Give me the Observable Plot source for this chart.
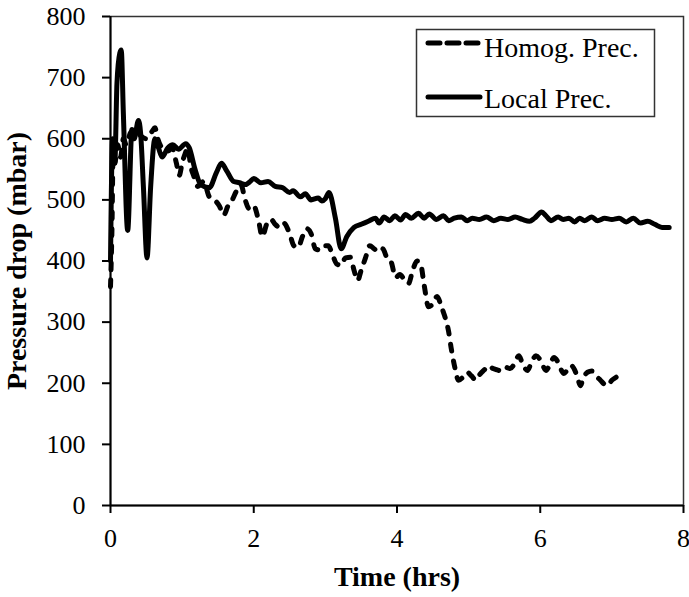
<!DOCTYPE html>
<html><head><meta charset="utf-8">
<script src="https://cdn.jsdelivr.net/npm/d3@7"></script>
<script src="https://cdn.jsdelivr.net/npm/@observablehq/plot@0.6"></script>
<style>
body{margin:0;background:#fff;}
#wrap{position:relative;width:689px;height:597px;font-family:"Liberation Serif","Times New Roman",serif;}
#wrap svg text{font-family:"Liberation Serif","Times New Roman",serif !important;}
#legend{position:absolute;left:0;top:0;pointer-events:none;}
</style></head><body><div id="wrap"></div>
<script>
const seriesNames = ["Homog. Prec.", "Local Prec."];
const xTitle = "Time (hrs)";
const yTitle = "Pressure drop (mbar)";
const xTicks = [0, 2, 4, 6, 8];
const yTicks = [0, 100, 200, 300, 400, 500, 600, 700, 800];

const homogTime = [0,0.02,0.04,0.06,0.1,0.14,0.18,0.22,0.28,0.35,0.42,0.5,0.58,0.62,0.66,0.72,0.8,0.86,0.92,0.96,1.0,1.04,1.08,1.12,1.16,1.22,1.3,1.38,1.45,1.52,1.58,1.64,1.7,1.76,1.82,1.88,1.94,2.0,2.06,2.12,2.18,2.24,2.3,2.36,2.42,2.5,2.56,2.62,2.68,2.74,2.8,2.86,2.92,2.98,3.04,3.1,3.16,3.22,3.28,3.35,3.4,3.45,3.5,3.56,3.62,3.68,3.74,3.8,3.86,3.92,3.98,4.04,4.1,4.16,4.22,4.28,4.33,4.38,4.44,4.5,4.56,4.62,4.66,4.72,4.76,4.8,4.86,4.92,4.98,5.04,5.1,5.16,5.22,5.28,5.34,5.4,5.46,5.52,5.58,5.64,5.7,5.76,5.82,5.88,5.94,6.0,6.04,6.08,6.14,6.19,6.24,6.28,6.33,6.38,6.43,6.48,6.53,6.56,6.6,6.66,6.72,6.78,6.84,6.9,6.94,7.0,7.06,7.12];
const homogPressure = [358,450,600,560,590,570,600,590,610,615,605,600,612,618,600,585,580,585,560,540,560,575,585,555,540,522,530,505,500,490,475,490,500,515,525,500,485,490,470,440,460,468,460,455,462,445,425,422,440,453,445,420,418,425,425,410,395,393,405,406,385,368,385,405,425,420,415,420,405,398,373,378,370,363,385,400,395,360,325,330,342,325,312,285,255,230,205,210,218,212,205,215,222,229,224,222,220,226,224,232,245,230,221,235,245,238,228,221,232,242,236,225,216,222,229,222,205,196,208,218,220,212,205,198,196,205,210,216];

const localTime = [0,0.03,0.06,0.09,0.13,0.15,0.18,0.24,0.3,0.33,0.39,0.42,0.46,0.51,0.56,0.62,0.67,0.72,0.8,0.87,0.95,1.05,1.1,1.18,1.26,1.38,1.48,1.55,1.62,1.72,1.8,1.88,1.95,2.0,2.1,2.2,2.3,2.4,2.5,2.55,2.65,2.72,2.8,2.9,2.95,3.0,3.05,3.14,3.22,3.3,3.4,3.5,3.6,3.7,3.75,3.82,3.9,3.97,4.05,4.12,4.2,4.3,4.38,4.45,4.55,4.65,4.72,4.8,4.9,4.98,5.05,5.15,5.25,5.35,5.45,5.55,5.65,5.75,5.85,5.92,6.02,6.08,6.15,6.25,6.32,6.4,6.48,6.55,6.62,6.72,6.8,6.9,7.0,7.1,7.2,7.3,7.4,7.5,7.6,7.7,7.8];
const localPressure = [400,600,560,690,740,745,640,450,615,600,630,610,520,405,520,600,585,570,585,590,583,592,585,550,525,520,545,560,548,530,528,525,530,535,528,530,522,520,512,515,505,510,500,503,498,502,512,470,420,440,455,460,465,470,462,472,466,474,467,476,470,478,470,477,468,474,466,470,472,466,470,468,472,466,470,468,472,468,465,470,480,474,466,472,468,470,464,470,466,472,466,470,468,470,464,470,462,465,460,455,455];

const homog = homogTime.map((t, i) => ({t, p: homogPressure[i]}));
const local = localTime.map((t, i) => ({t, p: localPressure[i]}));

const font = '"Liberation Serif","Times New Roman",serif';
const chart = Plot.plot({
  width: 689, height: 597,
  marginLeft: 110, marginRight: 6, marginTop: 16, marginBottom: 92,
  style: {fontFamily: font, color: "black", background: "white"},
  x: {domain: [0, 8]},
  y: {domain: [0, 800]},
  marks: [
    Plot.frame({stroke: "#333", strokeWidth: 1.5}),
    Plot.axisX({ticks: xTicks, tickSize: 8, tickPadding: 15, fontSize: 26, fontFamily: font, strokeWidth: 2,
      label: xTitle, labelAnchor: "center", labelOffset: 80, labelArrow: "none"}),
    Plot.axisY({ticks: yTicks, tickSize: 8, tickPadding: 17, fontSize: 26, fontFamily: font, strokeWidth: 2, tickFormat: d => String(d),
      label: yTitle, labelAnchor: "center", labelOffset: 104, labelArrow: "none"}),
    Plot.ruleX([0], {strokeWidth: 2}),
    Plot.ruleY([0], {strokeWidth: 2}),
    Plot.line(local, {x: "t", y: "p", stroke: "black", strokeWidth: 5, strokeLinejoin: "round", strokeLinecap: "round", curve: "monotone-x"}),
    Plot.line(homog, {x: "t", y: "p", stroke: "black", strokeWidth: 5, strokeLinejoin: "round", strokeLinecap: "round", strokeDasharray: "7,10", curve: "monotone-x"})
  ]
});
chart.querySelectorAll('g[aria-label="x-axis label"] text, g[aria-label="y-axis label"] text').forEach(t => { t.setAttribute("font-size", 28); t.setAttribute("font-weight", "bold"); });
const wrap = document.getElementById("wrap");
wrap.appendChild(chart);

// legend overlay
const ns = "http://www.w3.org/2000/svg";
const lg = document.createElementNS(ns, "svg");
lg.setAttribute("id", "legend");
lg.setAttribute("width", 689); lg.setAttribute("height", 597);
const box = document.createElementNS(ns, "rect");
box.setAttribute("x", 416.5); box.setAttribute("y", 29.5); box.setAttribute("width", 238); box.setAttribute("height", 87);
box.setAttribute("fill", "white"); box.setAttribute("stroke", "#333"); box.setAttribute("stroke-width", 1.5);
lg.appendChild(box);
const rows = [{y: 43, dash: "12,7", tx: 57}, {y: 97, dash: null, tx: 108}];
seriesNames.forEach((name, i) => {
  const r = rows[i];
  const ln = document.createElementNS(ns, "line");
  ln.setAttribute("x1", 428); ln.setAttribute("x2", 480); ln.setAttribute("y1", r.y); ln.setAttribute("y2", r.y);
  ln.setAttribute("stroke", "black"); ln.setAttribute("stroke-width", 5); ln.setAttribute("stroke-linecap", "round");
  if (r.dash) ln.setAttribute("stroke-dasharray", r.dash);
  lg.appendChild(ln);
  const tx = document.createElementNS(ns, "text");
  tx.setAttribute("x", 484); tx.setAttribute("y", r.tx);
  tx.setAttribute("font-family", font); tx.setAttribute("font-size", 28);
  tx.textContent = name;
  lg.appendChild(tx);
});
wrap.appendChild(lg);
</script></body></html>
